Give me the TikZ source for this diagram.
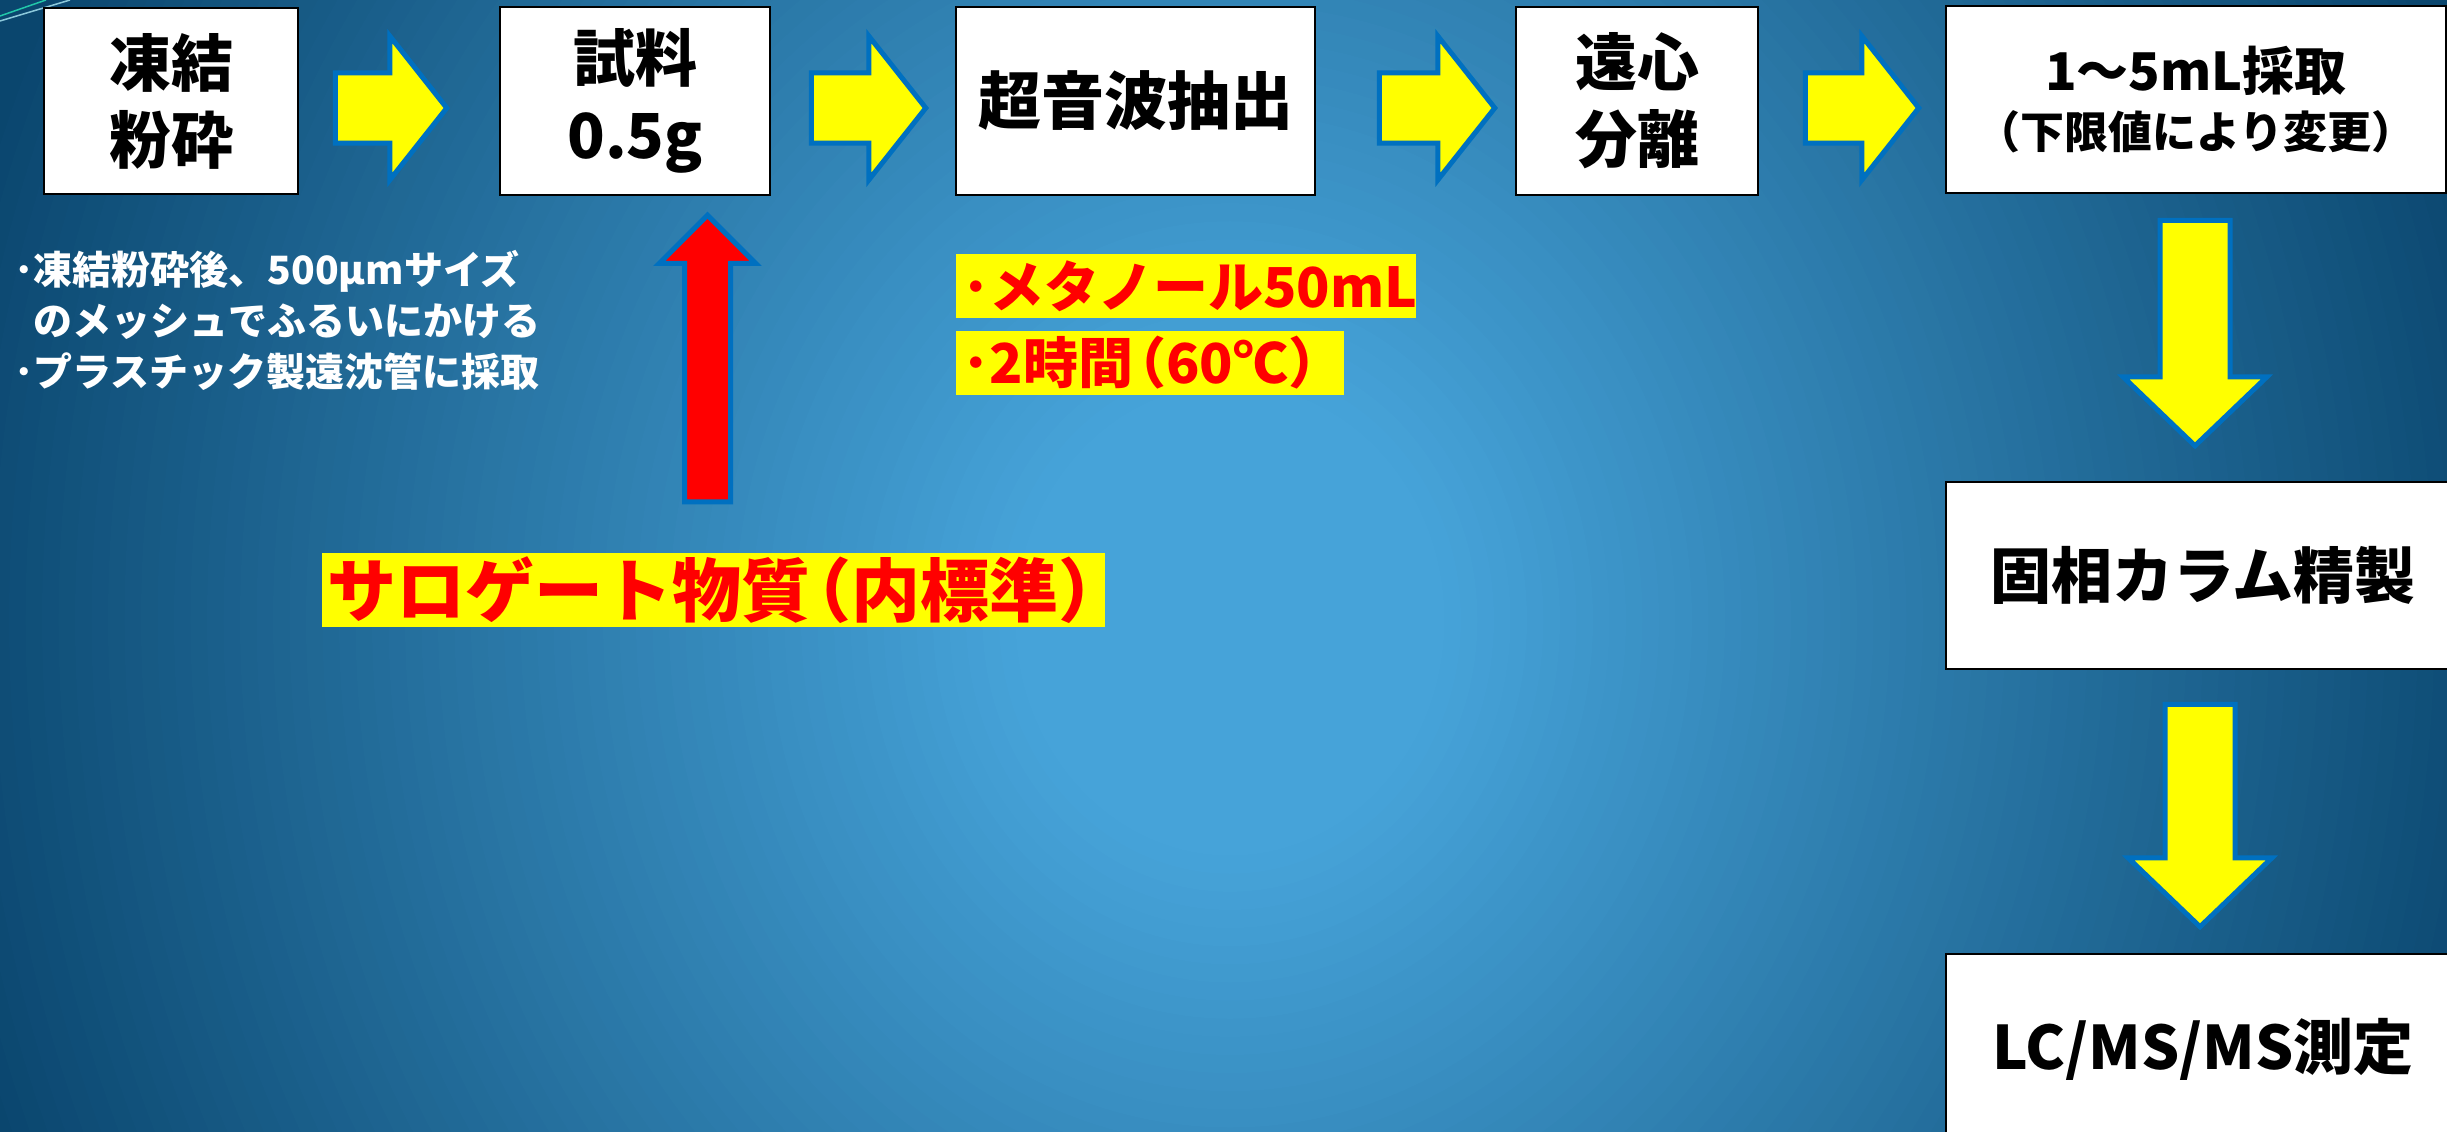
\documentclass[tikz,border=0pt]{standalone}
\usepackage{fontspec}
\setmainfont{Noto Sans CJK JP}
\usetikzlibrary{calc}
\definecolor{bglight}{HTML}{46A3D9}
\definecolor{bgdark}{HTML}{0A466E}
\definecolor{arrowblue}{HTML}{0070C0}
\definecolor{yel}{HTML}{FFFF00}
\definecolor{redt}{HTML}{FF0000}
\definecolor{decoA}{HTML}{22C7A9}
\definecolor{decoB}{HTML}{8CC8DA}
\newcommand\rightblock[2]{\draw[yarrow] let \p1=#1, \p2=#2 in
  (\x1,\y1+35pt) -- (\x2-57pt,\y1+35pt) -- (\x2-57pt,\y1+72pt) -- (\x2,\y1)
  -- (\x2-57pt,\y1-72pt) -- (\x2-57pt,\y1-35pt) -- (\x1,\y1-35pt) -- cycle;}
\newcommand\downblock[2]{\draw[yarrow] let \p1=#1, \p2=#2 in
  (\x1-35pt,\y1) -- (\x1-35pt,\y2+69pt) -- (\x1-72pt,\y2+69pt) -- (\x1,\y2)
  -- (\x1+72pt,\y2+69pt) -- (\x1+35pt,\y2+69pt) -- (\x1+35pt,\y1) -- cycle;}
\newcommand\upblock[2]{\draw[rarrow] let \p1=#1, \p2=#2 in
  (\x1-23pt,\y1) -- (\x1-23pt,\y2-48pt) -- (\x1-48pt,\y2-48pt) -- (\x1,\y2)
  -- (\x1+48pt,\y2-48pt) -- (\x1+23pt,\y2-48pt) -- (\x1+23pt,\y1) -- cycle;}
\newcommand\lpar{\makebox[0.6em][r]{（}}
\newcommand\rpar{\makebox[0.6em][l]{）}}
\begin{document}
\begin{tikzpicture}[x=1pt,y=-1pt,
  box/.style={draw=black, line width=2.5pt, fill=white, inner sep=0pt, align=center,
    font=\bfseries\fontsize{62pt}{77pt}\selectfont},
  yarrow/.style={fill=yel, draw=arrowblue, line width=5pt, line join=miter},
  rarrow/.style={fill=redt, draw=arrowblue, line width=5pt, line join=miter},
  ylab/.style={fill=yel, text=redt, inner xsep=6pt, inner ysep=0pt, align=left,
    minimum height=64pt, anchor=west, font=\bfseries\fontsize{55pt}{60pt}\selectfont},
  note/.style={text=white, align=left, inner sep=0pt, anchor=north west,
    font=\bfseries\fontsize{39pt}{51pt}\selectfont},
  deco/.style={line width=1.5pt}]
\useasboundingbox (0,0) rectangle (2447,1132);
\fill[bgdark] (0,0) rectangle (2447,1132);
\begin{scope}
  \clip (0,0) rectangle (2447,1132);
  \foreach \i in {0,...,79} {
    \pgfmathsetmacro\f{1-\i/80}
    \pgfmathsetmacro\p{min(100,\i*1.5)}
    \fill[bglight!\p!bgdark] (1230,620) ellipse ({1320*\f} and {1450*\f});
  }
  \draw[deco, decoA] (0,16) -- (46,0);
  \draw[deco, decoB] (0,21) -- (70,0);
\end{scope}

% process boxes
\node[box, minimum width=254pt, minimum height=186pt] (b1) at (171,101) {凍結\\粉砕};
\node[box, minimum width=270pt, minimum height=188pt] (b2) at (635,101) {試料\\0.5g};
\node[box, minimum width=359pt, minimum height=188pt, font=\bfseries\fontsize{63pt}{77pt}\selectfont] (b3) at (1135.5,101) {超音波抽出};
\node[box, minimum width=242pt, minimum height=188pt] (b4) at (1637,101) {遠心\\分離};
\node[box, minimum width=500pt, minimum height=187pt, font=\bfseries\fontsize{52pt}{58pt}\selectfont] (b5) at (2196,99.5)
  {{\fontsize{52pt}{58pt}\selectfont 1〜5mL採取}\\{\fontsize{44pt}{58pt}\selectfont \lpar 下限値により変更\rpar}};
\node[box, minimum width=514pt, minimum height=187pt, font=\bfseries\fontsize{61pt}{70pt}\selectfont] (b6) at (2203,575.5) {固相カラム精製};
\node[box, minimum width=514pt, minimum height=191pt, font=\bfseries\fontsize{60pt}{70pt}\selectfont] (b7) at (2203,1049.5) {LC/MS/MS測定};

% notes
\node[note] (n1) at (14,250) {･凍結粉砕後、500μmサイズ\\\hspace*{0.5em}のメッシュでふるいにかける\\･プラスチック製遠沈管に採取};
\node[ylab, text width=448pt] (m1) at (956,286) {･メタノール50mL};
\node[ylab, text width=376pt] (m2) at (956,363) {･2時間\lpar 60℃\rpar};
\node[fill=yel, text=redt, inner sep=0pt, minimum width=783pt, minimum height=74pt,
  font=\bfseries\fontsize{69pt}{76pt}\selectfont] (lab) at (713.5,590) {サロゲート物質\lpar 内標準\rpar};

% block arrows
\rightblock{([shift={(36,7)}]b1.east)}{([shift={(-52,7)}]b2.west)}
\rightblock{([shift={(40,7)}]b2.east)}{([shift={(-29,7)}]b3.west)}
\rightblock{([shift={(63,7)}]b3.east)}{([shift={(-20,7)}]b4.west)}
\rightblock{([shift={(46,7)}]b4.east)}{([shift={(-26,7)}]b5.west)}
\downblock{([shift={(-1,26)}]b5.south)}{([shift={(0,-35)}]b6.north)}
\downblock{([shift={(-3,34)}]b6.south)}{([shift={(0,-26)}]b7.north)}
\upblock{([shift={(-6,-51)}]lab.north)}{([shift={(0,19)}]b2.south)}
\end{tikzpicture}
\end{document}
